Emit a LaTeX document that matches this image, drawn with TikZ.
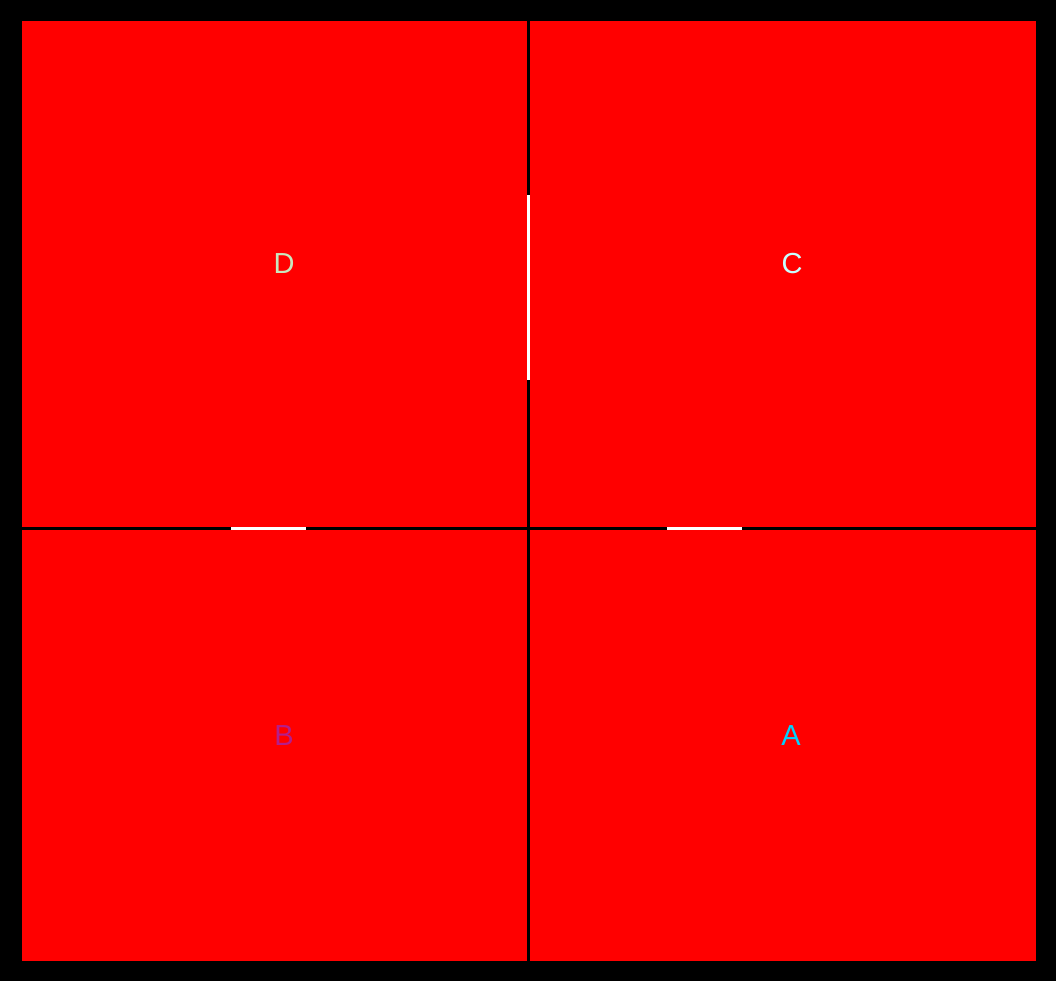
\documentclass[tikz,border=0pt]{standalone}
\usepackage{fontspec}
\setmainfont{Liberation Sans}
\definecolor{dcol}{RGB}{200,232,190}
\definecolor{ccol}{RGB}{200,255,255}
\definecolor{bcol}{RGB}{180,30,140}
\definecolor{acol}{RGB}{0,210,255}
\tikzset{
  room/.style={fill=red, draw=none, inner sep=0pt, outer sep=0pt},
  lbl/.style={font=\fontsize{29}{29}\selectfont, inner sep=0pt},
  door/.style={draw=white, line width=3pt}
}
\begin{document}
\begin{tikzpicture}[x=1pt,y=-1pt]
\fill[black] (0,0) rectangle (1056,981);
\useasboundingbox (0,0) rectangle (1056,981);
\path[room] (22,21) rectangle (527,527);
\path[room] (530,21) rectangle (1036,527);
\path[room] (22,530) rectangle (527,961);
\path[room] (530,530) rectangle (1036,961);
\node[lbl, text=dcol] (D) at (284,264) {D};
\node[lbl, text=ccol] (C) at (792,264) {C};
\node[lbl, text=bcol] (B) at (284,736) {B};
\node[lbl, text=acol] (A) at (791,736) {A};
\coordinate (v1) at (528.5,195);
\coordinate (v2) at (528.5,380);
\coordinate (h1) at (231,528.5);
\coordinate (h2) at (306,528.5);
\coordinate (h3) at (667,528.5);
\coordinate (h4) at (742,528.5);
\draw[door] (v1) -- (v2);
\draw[door] (h1) -- (h2);
\draw[door] (h3) -- (h4);
\end{tikzpicture}
\end{document}
